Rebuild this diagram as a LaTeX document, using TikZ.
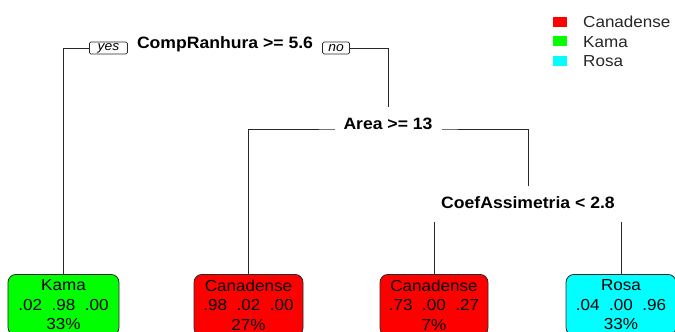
\documentclass[tikz,border=0pt]{standalone}
\usepackage{fontspec}
\setmainfont{Liberation Sans}[FakeStretch=1.07]
\usetikzlibrary{backgrounds}

\definecolor{leafred}{RGB}{255,0,0}
\definecolor{leafgreen}{RGB}{0,255,0}
\definecolor{leafcyan}{RGB}{0,255,255}
\definecolor{edgegray}{RGB}{40,40,40}

\tikzset{
  split/.style={fill=white, font=\fontsize{16.5}{18}\selectfont\bfseries,
    inner xsep=9bp, inner ysep=10bp, text height=12bp, text depth=4bp, anchor=base},
  leaf/.style={draw=edgegray, line width=0.8bp, rounded corners=8bp, anchor=north,
    align=center, font=\fontsize{16}{19.5}\selectfont, inner ysep=5.5bp,
    minimum width=#1},
  tag/.style={draw=edgegray, line width=0.7bp, fill=white, rounded corners=1.5bp,
    font=\fontsize{13}{13}\selectfont\itshape, inner sep=0pt,
    minimum height=12bp},
  branch/.style={draw=edgegray, line width=0.8bp},
  keybox/.style={minimum width=14bp, minimum height=9.5bp, inner sep=0pt, anchor=north west},
  keytext/.style={font=\fontsize{16}{18}\selectfont, text=black!85, anchor=base west, inner sep=0pt}
}
\newcommand{\probs}[3]{#1\hspace{0.6em}#2\hspace{0.6em}#3}

\begin{document}
\begin{tikzpicture}[x=1bp, y=-1bp]
  \useasboundingbox (0,0) rectangle (675,331);

  % split labels
  \node[split] (root) at (225,48) {CompRanhura >= 5.6};
  \node[split] (area) at (388,129) {Area >= 13};
  \node[split] (coef) at (528,208) {CoefAssimetria < 2.8};

  % yes / no tags beside the root split
  \node[tag, minimum width=38bp, anchor=east] (yes) at (root.base west) {yes};
  \node[tag, minimum width=27bp, anchor=west] (no) at (root.base east) {no};

  % leaves
  \node[leaf=111bp, fill=leafgreen] (kama) at (63.5,274) {Kama\\\probs{.02}{.98}{.00}\\33\%};
  \node[leaf=109bp, fill=leafred] (can1) at (248.5,274) {Canadense\\\probs{.98}{.02}{.00}\\27\%};
  \node[leaf=108bp, fill=leafred] (can2) at (434,274) {Canadense\\\probs{.73}{.00}{.27}\\7\%};
  \node[leaf=110bp, fill=leafcyan] (rosa) at (621,274) {Rosa\\\probs{.04}{.00}{.96}\\33\%};

  % branches, drawn behind the labels
  \begin{pgfonlayer}{background}
    \draw[branch] (kama.north) |- (root.base) -| (area.north);
    \draw[branch] (can1.north) |- (area.base) -| (coef.north);
    \draw[branch] (can2.north) |- (coef.base) -| (rosa.north);
  \end{pgfonlayer}

  % legend
  \node[keybox, fill=leafred] (k1) at (553,17) {};
  \node[keybox, fill=leafgreen] (k2) at (553,36) {};
  \node[keybox, fill=leafcyan] (k3) at (553,56) {};
  \node[keytext] (t1) at (583,27) {Canadense};
  \node[keytext] (t2) at (583,47) {Kama};
  \node[keytext] (t3) at (583,66) {Rosa};
\end{tikzpicture}
\end{document}
